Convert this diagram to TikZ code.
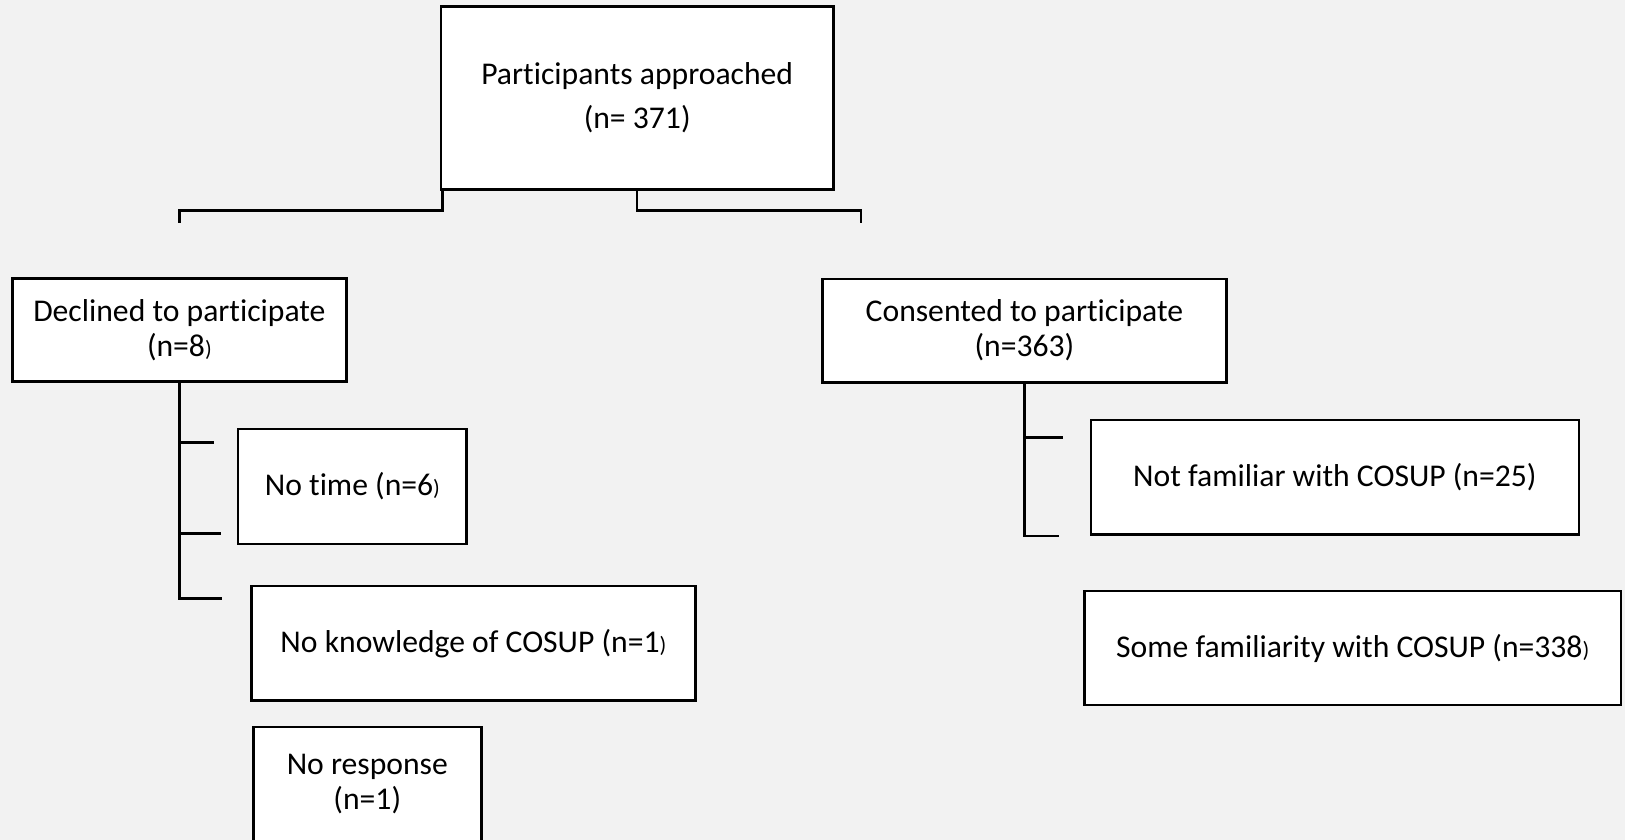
\documentclass[tikz,border=0pt]{standalone}
\usepackage{fontspec}
\setmainfont[Ligatures={NoCommon}]{Carlito}
\usetikzlibrary{calc}
\definecolor{bg}{HTML}{F2F2F2}
\newcommand\smallparen{{\fontsize{6.3}{7}\selectfont)}}
\begin{document}
\begin{tikzpicture}[x=0.01cm,y=-0.01cm,
  box/.style={draw, fill=white, line width=0.7pt, inner sep=0pt, align=center, font=\fontsize{9}{10}\selectfont},
  conn/.style={line width=0.7pt}]
\clip (0,0) rectangle (1625,840);
\fill[bg] (0,0) rectangle (1625,840);
% boxes
\node[box, minimum width=3.926cm, minimum height=1.826cm, font=\fontsize{9}{12.4}\selectfont] (top) at (637.2,98) {Participants approached\\(n= 371)};
\node[box, minimum width=3.336cm, minimum height=1.03cm] (dec) at (179.4,330) {Declined to participate\\(n=8\smallparen};
\node[box, minimum width=4.036cm, minimum height=1.033cm] (con) at (1024.4,330.6) {Consented to participate\\(n=363)};
\node[box, minimum width=2.282cm, minimum height=1.144cm] (notime) at (352.4,486.5) {No time (n=6\smallparen};
\node[box, minimum width=4.435cm, minimum height=1.143cm] (noknow) at (473.4,643.2) {No knowledge of COSUP (n=1\smallparen};
\node[box, minimum width=2.278cm, minimum height=1.14cm] (noresp) at (367.3,784) {No response\\(n=1)};
\node[box, minimum width=4.877cm, minimum height=1.14cm] (notfam) at (1334.9,477.3) {Not familiar with COSUP (n=25)};
\node[box, minimum width=5.362cm, minimum height=1.14cm] (somefam) at (1352.7,648) {Some familiarity with COSUP (n=338\smallparen};
% free ends
\coordinate (dl) at (179.3,222.7);
\coordinate (dr) at (861,222.7);
\coordinate (lt1) at (213.5,442.3);
\coordinate (lt2) at (220.8,533.3);
\coordinate (lt3) at (221.8,598.3);
\coordinate (rt1) at (1063,437.3);
\coordinate (rt2) at (1059.4,536);
% connectors
\draw[conn] ([xshift=0.028cm]top.south west) -- ++(0,20) -| (dl);
\draw[conn] (top.south) -- ++(0,20) -| (dr);
\draw[conn] (dec.south) |- (lt3);
\draw[conn] (dec.south |- lt1) -- (lt1);
\draw[conn] (dec.south |- lt2) -- (lt2);
\draw[conn] (con.south) |- (rt2);
\draw[conn] (con.south |- rt1) -- (rt1);
\end{tikzpicture}
\end{document}
